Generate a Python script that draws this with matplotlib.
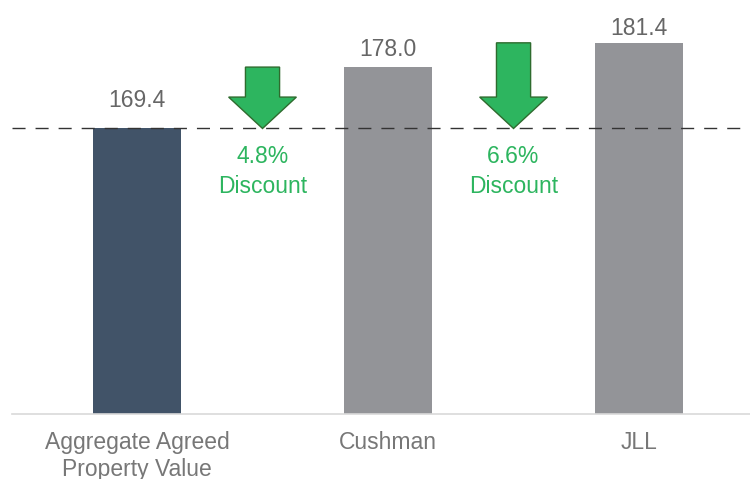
import matplotlib
matplotlib.use("Agg")
import matplotlib.pyplot as plt
from matplotlib.patches import Polygon

categories = ["Aggregate Agreed\nProperty Value", "Cushman", "JLL"]
values = [169.4, 178.0, 181.4]
discount_labels = ["4.8%\nDiscount", "6.6%\nDiscount"]

bar_colors = ["#415368", "#939498", "#939498"]
label_offsets = [12, 4.5, 2]  # points above bar
green = "#2DB55F"
font = "Liberation Sans"

fig = plt.figure(figsize=(7.5, 4.79), dpi=100)
ax = fig.add_axes([12 / 750, (479 - 414) / 479, 738 / 750, 414 / 479])
ax.set_xlim(-0.498, 2.442)
ax.set_ylim(129.4, 187.4)

xs = list(range(len(categories)))
ax.bar(xs, values, width=0.35, color=bar_colors, zorder=2)

for x, v, off in zip(xs, values, label_offsets):
    ax.annotate(f"{v:.1f}", (x, v), xytext=(0, off), textcoords="offset points",
                ha="center", va="bottom", fontsize=16.5, color="#666666",
                fontfamily=font)

base = values[0]
ax.axhline(base, color="#333333", lw=1.0, dashes=(9.4, 7.2), zorder=3)

shaft_hw = 0.068
head_hw = 0.135
head_len = 4.4
for i, lab in enumerate(discount_labels):
    xc = i + 0.5
    top = values[i + 1]
    neck = base + head_len
    pts = [(xc - shaft_hw, top), (xc + shaft_hw, top), (xc + shaft_hw, neck),
           (xc + head_hw, neck), (xc, base), (xc - head_hw, neck),
           (xc - shaft_hw, neck)]
    ax.add_patch(Polygon(pts, closed=True, facecolor=green, edgecolor="#2E6B2E",
                         lw=1.0, zorder=4))
    ax.annotate(lab, (xc, base), xytext=(0, -12), textcoords="offset points",
                ha="center", va="top", fontsize=16.5, color=green,
                fontfamily=font, linespacing=1.38)

ax.set_xticks(xs)
ax.set_xticklabels(categories, fontsize=16.5, color="#777777", fontfamily=font,
                   linespacing=1.25)
ax.tick_params(axis="x", length=0, pad=12)
ax.set_yticks([])
for s in ["top", "right", "left"]:
    ax.spines[s].set_visible(False)
ax.spines["bottom"].set_color("#d9d9d9")
ax.spines["bottom"].set_linewidth(1.2)

fig.savefig("out.png", dpi=100)
